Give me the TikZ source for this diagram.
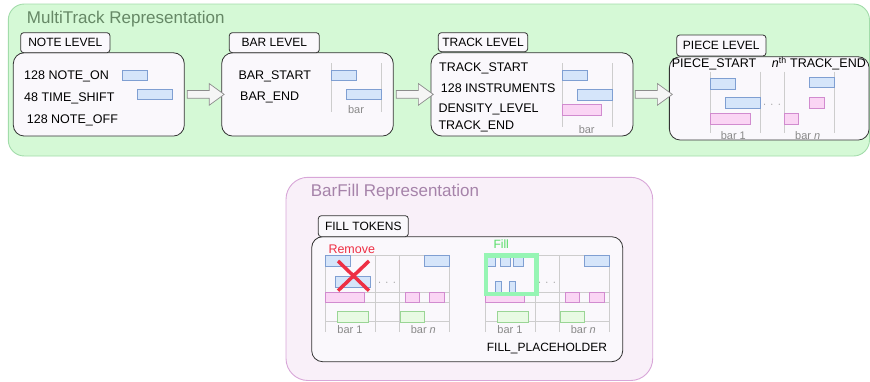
\documentclass[tikz,border=0pt]{standalone}
\usepackage{fontspec}
\setmainfont{Liberation Sans}
\usetikzlibrary{shapes.arrows}

\definecolor{mtbg}{HTML}{D5F9D6}
\definecolor{mtline}{HTML}{A2DCAA}
\definecolor{mttext}{HTML}{668866}
\definecolor{bfbg}{HTML}{F9F0F9}
\definecolor{bfline}{HTML}{D8A6D8}
\definecolor{bftext}{HTML}{A683AA}
\definecolor{boxfill}{HTML}{FAF8FC}
\definecolor{boxline}{HTML}{333333}
\definecolor{gridgray}{HTML}{CDCDCD}
\definecolor{labelgray}{HTML}{8A8A8A}
\definecolor{bluefill}{HTML}{D5E5FA}
\definecolor{blueline}{HTML}{7F9FD2}
\definecolor{pinkfill}{HTML}{FAD5F4}
\definecolor{pinkline}{HTML}{D18BCF}
\definecolor{greenfill}{HTML}{E8FAE3}
\definecolor{greenline}{HTML}{9AD595}
\definecolor{removered}{HTML}{EE2F44}
\definecolor{fillgreen}{HTML}{55DD66}
\definecolor{framegreen}{HTML}{96F5B4}
\definecolor{arrowgray}{HTML}{8C8C8C}
\definecolor{arrowfill}{HTML}{F5F5F5}

\begin{document}
\begin{tikzpicture}[x=1pt,y=-1pt,
    levelbox/.style={draw=boxline, fill=boxfill, rounded corners=11pt, line width=0.8pt, inner sep=0pt},
    tabbox/.style={draw=boxline, fill=boxfill, rounded corners=3pt, line width=0.8pt, inner sep=0pt,
                   minimum height=20pt, font=\fontsize{12}{14}\selectfont},
    token/.style={anchor=base west, inner sep=0pt, font=\fontsize{12.5}{15}\selectfont},
    title/.style={anchor=west, inner sep=0pt, font=\fontsize{17}{20}\selectfont},
    barlabel/.style={text=labelgray, inner sep=0pt, font=\fontsize{11}{13}\selectfont},
    blockarrow/.style={single arrow, draw=arrowgray, fill=arrowfill, line width=0.7pt,
                       inner xsep=0pt, inner ysep=3.5pt, minimum height=37pt,
                       single arrow head extend=7pt, single arrow tip angle=72},
    gridline/.style={draw=gridgray, line width=0.7pt},
    bluenote/.style={draw=blueline, fill=bluefill, line width=0.8pt},
    pinknote/.style={draw=pinkline, fill=pinkfill, line width=0.8pt},
    greennote/.style={draw=greenline, fill=greenfill, line width=0.8pt}]
\useasboundingbox (0,0) rectangle (870,381);

% MultiTrack representation
\draw[fill=mtbg, draw=mtline, line width=0.9pt, rounded corners=16pt] (8.3,4) rectangle (869.5,156);
\node[title, text=mttext] (mttitle) at (26.7,18.8) {MultiTrack Representation};

\node[levelbox, minimum width=171pt, minimum height=83.3pt] (note) at (98.8,94.4) {};
\node[levelbox, minimum width=171.6pt, minimum height=83.3pt] (bar) at (307.5,94.4) {};
\node[levelbox, minimum width=202pt, minimum height=83.3pt] (track) at (532,94.4) {};
\node[levelbox, minimum width=199.7pt, minimum height=83.3pt] (piece) at (769.2,98.4) {};

\node[tabbox, minimum width=89.3pt] (notetab) at (65.3,42.7) {NOTE LEVEL};
\node[tabbox, minimum width=90pt] (bartab) at (274.3,42.7) {BAR LEVEL};
\node[tabbox, minimum width=89.4pt, minimum height=19pt] (tracktab) at (483,42.2) {TRACK LEVEL};
\node[tabbox, minimum width=89.3pt, minimum height=21pt] (piecetab) at (721.3,45.5) {PIECE LEVEL};

\path (note.east) -- node[blockarrow] (notetobar) {} (bar.west);
\path (bar.east) -- node[blockarrow] (bartotrack) {} (track.west);
\path (track.east) -- node[blockarrow] (tracktopiece) {} (track.east -| piece.west);

% note level
\node[token] (noteon) at (24,79) {128 NOTE\_ON};
\node[token] (timeshift) at (24,101.7) {48 TIME\_SHIFT};
\node[token] (noteoff) at (26.7,123.3) {128 NOTE\_OFF};
\draw[bluenote] (122.7,70) rectangle (147.3,80);
\draw[bluenote] (137.7,89.3) rectangle (172.7,99.3);

% bar level
\node[token] (barstart) at (238.3,79) {BAR\_START};
\node[token] (barend) at (240,100) {BAR\_END};
\draw[gridline] (331.7,63.3) -- (331.7,111.7) (381.7,63.3) -- (381.7,111.7);
\draw[bluenote] (331.7,70) rectangle (356.7,80);
\draw[bluenote] (346.7,89.3) rectangle (381.7,99.3);
\node[barlabel] (barbar) at (356,110) {bar};

% track level
\node[token] (trackstart) at (439,71.7) {TRACK\_START};
\node[token] (instruments) at (440.7,92.7) {128 INSTRUMENTS};
\node[token] (density) at (438.3,112.3) {DENSITY\_LEVEL};
\node[token] (trackend) at (438.3,129.3) {TRACK\_END};
\draw[gridline] (562.3,63.3) -- (562.3,126.7) (612.7,63.3) -- (612.7,126.7);
\draw[bluenote] (562.3,70) rectangle (587.3,80.7);
\draw[bluenote] (577.3,89.3) rectangle (612.7,100);
\draw[pinknote] (562.3,104) rectangle (601.7,115.3);
\node[barlabel] (trackbar) at (586.7,129.3) {bar};

% piece level
\node[token] (piecestart) at (671.7,67.7) {PIECE\_START};
\node[token] (nthend) at (771.7,67.7) {\textit{n}\textsuperscript{th} TRACK\_END};
\foreach \vx in {710.7,760.7,784,834}
  \draw[gridline] (\vx,71.7) -- (\vx,133.3);
\draw[bluenote] (710.7,78.7) rectangle (735.3,89.3);
\draw[bluenote] (725.3,97.7) rectangle (760.7,108.7);
\draw[pinknote] (710.7,113.3) rectangle (750.7,124);
\draw[bluenote] (809.3,77) rectangle (834,87.7);
\draw[pinknote] (809.3,97.7) rectangle (824,108.7);
\draw[pinknote] (784,113.3) rectangle (798.7,124);
\node[barlabel] (piecedots) at (772,105) {$\cdot\,\cdot\,\cdot$};
\node[barlabel] (piecebarone) at (733.3,135.5) {bar 1};
\node[barlabel] (piecebarn) at (807.7,135.5) {bar \textit{n}};

% BarFill representation
\draw[fill=bfbg, draw=bfline, line width=0.9pt, rounded corners=22pt] (286,177.3) rectangle (652.7,380.5);
\node[title, text=bftext] (bftitle) at (310.7,192.3) {BarFill Representation};

\node[levelbox, minimum width=311pt, minimum height=125pt] (fill) at (467.2,299.2) {};
\node[tabbox, minimum width=90pt, minimum height=21pt] (filltab) at (363.3,226.2) {FILL TOKENS};

\foreach \gx in {0,160} {
  \begin{scope}[xshift=\gx pt]
    \foreach \vx in {325,375.3,399.3,449.7}
      \draw[gridline] (\vx,255.7) -- (\vx,331.7);
    \foreach \hy in {255.7,292.3,302.3,321.3}
      \draw[gridline] (325,\hy) -- (449.7,\hy);
    \draw[pinknote] (325,292.3) rectangle (364.7,302.7);
    \draw[greennote] (337.7,311) rectangle (368.3,322);
    \draw[bluenote] (424.7,255.7) rectangle (449.7,266.7);
    \draw[pinknote] (405,292.3) rectangle (419.7,302.7);
    \draw[pinknote] (429.3,292.3) rectangle (444.7,302.7);
    \draw[greennote] (400,311) rectangle (424.7,322);
    \node[barlabel] (dots\gx) at (387,283) {$\cdot\,\cdot\,\cdot$};
    \node[barlabel] (barone\gx) at (350,329.3) {bar 1};
    \node[barlabel] (barn\gx) at (423.3,329.3) {bar \textit{n}};
  \end{scope}
}

% remove
\draw[bluenote] (325,255.7) rectangle (350.7,266.7);
\draw[bluenote] (335.7,276.7) rectangle (370.3,287.7);
\draw[removered, line width=3.5pt] (338,261) -- (369,290.7) (338,290.7) -- (369,261);
\node[token, text=removered] (remove) at (328.3,253.3) {Remove};

% fill
\draw[bluenote] (487.3,255.7) rectangle (495.7,266.7);
\draw[bluenote] (500.3,255.7) rectangle (510.3,266.7);
\draw[bluenote] (513.7,255.7) rectangle (523.7,266.7);
\draw[bluenote] (495,281.7) rectangle (501,292.7);
\draw[bluenote] (509.7,281.7) rectangle (515.7,292.7);
\draw[framegreen, line width=4.5pt] (485.8,255.3) rectangle (536.3,293.8);
\node[token, text=fillgreen, font=\fontsize{12}{14}\selectfont] (filllabel) at (493.3,248.3) {Fill};
\node[token, font=\fontsize{12}{14}\selectfont] (placeholder) at (486.7,351.5) {FILL\_PLACEHOLDER};
\end{tikzpicture}
\end{document}
